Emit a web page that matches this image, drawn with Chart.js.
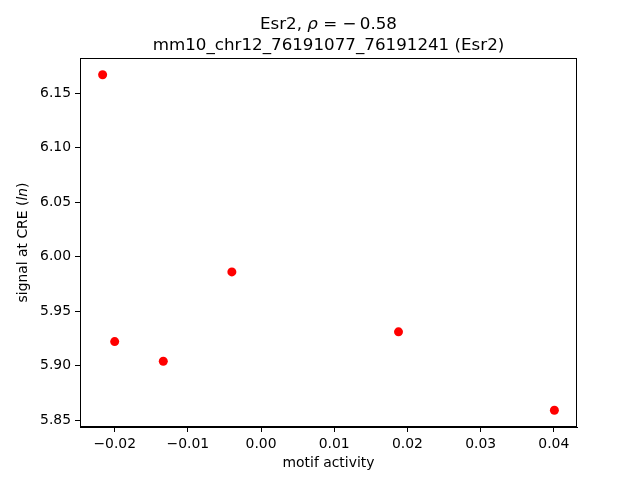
<!DOCTYPE html>
<html>
<head>
<meta charset="utf-8">
<script src="https://cdn.jsdelivr.net/npm/chart.js@4.4.1/dist/chart.umd.min.js"></script>
<style>
    html, body { margin: 0; padding: 0; background: #ffffff; }
    canvas { display: block; }
</style>
</head>
<body>
<canvas id="chart" width="640" height="480"></canvas>
<script>
const motifActivity = [-0.02165, -0.0200, -0.01336, -0.00399, 0.01878, 0.04008];
const signalAtCre = [6.167, 5.922, 5.904, 5.986, 5.931, 5.859];

const xRange = [-0.02474, 0.04317];
const yRange = [5.8436, 6.1824];

const FONT = '"DejaVu Sans", sans-serif';

function minusLabel(value, digits) {
    if (Math.abs(value) < 1e-9) return (0).toFixed(digits);
    return (value < 0 ? '\u2212' : '') + Math.abs(value).toFixed(digits);
}

// draws a run of [text, italic] pieces centred on x
function drawRuns(ctx, runs, x, y, size) {
    let total = 0;
    runs.forEach(([text, italic]) => {
        ctx.font = `${italic ? 'italic ' : ''}${size}px ${FONT}`;
        total += ctx.measureText(text).width;
    });
    let cx = x - total / 2;
    runs.forEach(([text, italic]) => {
        ctx.font = `${italic ? 'italic ' : ''}${size}px ${FONT}`;
        ctx.fillText(text, cx, y);
        cx += ctx.measureText(text).width;
    });
}

const frameAndLabels = {
    id: 'frameAndLabels',
    afterDraw(chart) {
        const { ctx, chartArea: a } = chart;
        const midX = (a.left + a.right) / 2;
        const midY = (a.top + a.bottom) / 2;

        ctx.save();
        ctx.strokeStyle = '#000000';
        ctx.lineWidth = 1;
        ctx.strokeRect(a.left + 0.5, a.top + 0.5, a.right - a.left - 1, a.bottom - a.top - 1);

        ctx.fillStyle = '#000000';
        ctx.textAlign = 'left';
        ctx.textBaseline = 'alphabetic';

        drawRuns(ctx, [['Esr2, ', false], ['\u03c1', true], [' = \u2212\u20090.58', false]], midX, 29, 16.7);
        drawRuns(ctx, [['mm10_chr12_76191077_76191241 (Esr2)', false]], midX, 50, 16.7);

        drawRuns(ctx, [['motif activity', false]], midX, 467, 13.9);

        ctx.translate(27, midY);
        ctx.rotate(-Math.PI / 2);
        drawRuns(ctx, [['signal at CRE (', false], ['ln', true], [')', false]], 0, 0, 13.9);
        ctx.restore();
    }
};

new Chart(document.getElementById('chart'), {
    type: 'scatter',
    data: {
        datasets: [{
            data: motifActivity.map((x, i) => ({ x, y: signalAtCre[i] })),
            backgroundColor: '#ff0000',
            borderColor: '#ff0000',
            borderWidth: 0,
            pointRadius: 4.5,
            pointHoverRadius: 4.5
        }]
    },
    options: {
        responsive: false,
        animation: false,
        layout: { padding: { top: 58, right: 63, left: 0, bottom: 0 } },
        plugins: {
            legend: { display: false },
            title: { display: false },
            tooltip: { enabled: false }
        },
        scales: {
            x: {
                type: 'linear',
                min: xRange[0],
                max: xRange[1],
                afterFit: (scale) => { scale.height = 53; },
                ticks: {
                    stepSize: 0.01,
                    includeBounds: false,
                    color: '#000000',
                    padding: 4,
                    maxRotation: 0,
                    font: { family: FONT, size: 13.9 },
                    callback: (value) => minusLabel(value, 2)
                },
                grid: { drawOnChartArea: false, drawTicks: true, tickLength: 5, tickColor: '#000000' },
                border: { display: true, color: '#000000', width: 1 }
            },
            y: {
                type: 'linear',
                min: yRange[0],
                max: yRange[1],
                afterFit: (scale) => { scale.width = 80; },
                ticks: {
                    stepSize: 0.05,
                    includeBounds: false,
                    color: '#000000',
                    padding: 4,
                    font: { family: FONT, size: 13.9 },
                    callback: (value) => minusLabel(value, 2)
                },
                grid: { drawOnChartArea: false, drawTicks: true, tickLength: 5, tickColor: '#000000' },
                border: { display: true, color: '#000000', width: 1 }
            }
        }
    },
    plugins: [frameAndLabels]
});
</script>
</body>
</html>
